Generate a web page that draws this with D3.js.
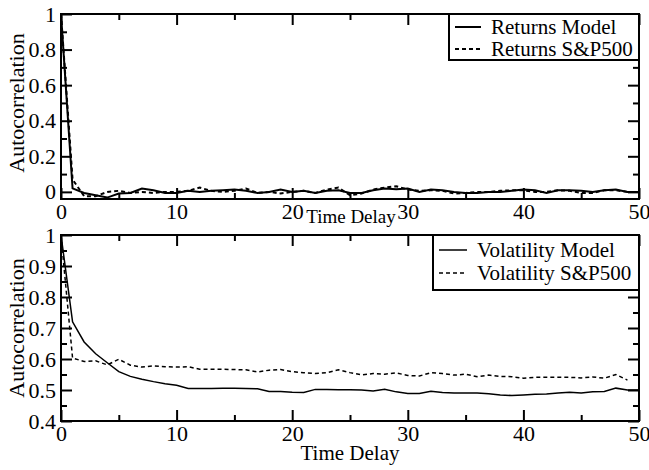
<!DOCTYPE html>
<html>
<head>
<meta charset="utf-8">
<script src="https://cdn.jsdelivr.net/npm/d3@7"></script>
<style>
  body { margin: 0; background: #fff; }
  svg { display: block; }
</style>
</head>
<body>
<script>
// lag axis
var lags = d3.range(0, 51);
var xTicks = [0, 10, 20, 30, 40, 50];
var topYTicks = [0, 0.2, 0.4, 0.6, 0.8, 1];
var botYTicks = [0.4, 0.5, 0.6, 0.7, 0.8, 0.9, 1];

// autocorrelation of returns
var returnsModel = [1.0, 0.02, -0.006, -0.019, -0.032, -0.009, -0.006, 0.019, 0.009, -0.006,
    -0.006, 0.006, 0, 0.006, 0.009, 0.013, 0.006, -0.006, 0, 0.013,
    0, 0.006, -0.006, 0.006, 0.009, -0.006, -0.006, 0.009, 0.019, 0.015,
    0.019, 0, 0.013, 0.009, 0, -0.006, -0.006, 0, 0, 0.006,
    0.013, 0.009, -0.006, 0.009, 0.009, 0.006, 0, 0.009, 0.013, 0, 0];
var returnsSP500 = [1.0, 0.07, -0.024, -0.024, 0, 0.006, -0.006, 0, -0.006, 0,
    0, 0.006, 0.024, 0.006, 0, 0.006, 0.019, -0.006, 0, -0.009,
    0, 0.006, -0.006, 0.013, 0.024, -0.019, -0.009, 0.013, 0.024, 0.032,
    0.013, 0.006, 0.009, 0.006, -0.009, -0.006, 0, 0, 0.006, 0.009,
    0.009, 0, 0, 0.009, 0.006, -0.006, -0.006, 0.009, 0.009, 0, 0];

// autocorrelation of volatility
var volatilityModel = [1.0, 0.72, 0.655, 0.617, 0.588, 0.559, 0.544, 0.535, 0.527, 0.52,
    0.515, 0.505, 0.505, 0.505, 0.506, 0.506, 0.505, 0.504, 0.495, 0.495,
    0.493, 0.492, 0.502, 0.502, 0.501, 0.501, 0.5, 0.497, 0.502, 0.494,
    0.489, 0.489, 0.496, 0.492, 0.49, 0.49, 0.49, 0.488, 0.484, 0.482,
    0.484, 0.486, 0.487, 0.49, 0.493, 0.49, 0.494, 0.495, 0.506, 0.5, 0.5];
var volatilitySP500 = [1.0, 0.603, 0.592, 0.594, 0.581, 0.599, 0.58, 0.574, 0.578, 0.575,
    0.574, 0.575, 0.567, 0.567, 0.567, 0.566, 0.565, 0.558, 0.564, 0.566,
    0.559, 0.556, 0.553, 0.556, 0.565, 0.556, 0.549, 0.553, 0.551, 0.555,
    0.547, 0.545, 0.556, 0.553, 0.548, 0.551, 0.543, 0.548, 0.544, 0.543,
    0.538, 0.541, 0.541, 0.541, 0.541, 0.539, 0.542, 0.538, 0.55, 0.532];

var width = 649, height = 470;
var font = "'Liberation Serif', 'Times New Roman', serif";

var svg = d3.select("body").append("svg")
    .attr("width", width)
    .attr("height", height);

var x = d3.scaleLinear().domain([0, 50]).range([61, 639]);

function drawPanel(opt) {
    var y = d3.scaleLinear().domain(opt.domain).range([opt.bottom, opt.top]);
    var g = svg.append("g");

    // minor + major ticks, inward on all four sides
    var minorX = d3.range(5, 50, 10);
    var sides = [
        [d3.axisBottom, "translate(0," + opt.bottom + ")", x, xTicks, minorX, true, 4],
        [d3.axisTop, "translate(0," + opt.top + ")", x, xTicks, minorX, false, 4],
        [d3.axisLeft, "translate(61,0)", y, opt.yTicks, opt.yMinor, true, 5],
        [d3.axisRight, "translate(639,0)", y, opt.yTicks, opt.yMinor, false, 4]
    ];
    sides.forEach(function (s) {
        var major = g.append("g")
            .attr("transform", s[1])
            .call(s[0](s[2]).tickValues(s[3]).tickSize(-11).tickPadding(s[6])
                .tickFormat(s[5] ? d3.format("") : ""));
        major.select(".domain").remove();
        major.selectAll("line").attr("stroke", "#000").attr("stroke-width", 2);
        major.selectAll("text").attr("font-family", font).attr("font-size", 22).attr("fill", "#000");
        var minor = g.append("g")
            .attr("transform", s[1])
            .call(s[0](s[2]).tickValues(s[4]).tickSize(-6).tickFormat(""));
        minor.select(".domain").remove();
        minor.selectAll("line").attr("stroke", "#000").attr("stroke-width", 2);
    });

    var line = d3.line()
        .x(function (d) { return x(d[0]); })
        .y(function (d) { return y(d[1]); });

    opt.series.forEach(function (s) {
        g.append("path")
            .datum(s.values.map(function (v, i) { return [lags[i], v]; }))
            .attr("d", line)
            .attr("fill", "none")
            .attr("stroke", "#000")
            .attr("stroke-width", opt.lw)
            .attr("stroke-dasharray", s.dash ? "4,3" : null);
    });

    // frame
    g.append("rect")
        .attr("x", 61).attr("y", opt.top)
        .attr("width", 639 - 61).attr("height", opt.bottom - opt.top)
        .attr("fill", "none").attr("stroke", "#000").attr("stroke-width", 2);

    // axis titles
    g.append("text")
        .attr("x", opt.xTitleX).attr("y", opt.xTitleY)
        .attr("text-anchor", "middle")
        .attr("font-family", font).attr("font-size", opt.xTitleSize)
        .text("Time Delay");
    g.append("text")
        .attr("transform", "translate(24," + opt.yTitleMid + ") rotate(-90)")
        .attr("text-anchor", "middle")
        .attr("font-family", font).attr("font-size", 22)
        .text("Autocorrelation");

    // legend
    var lg = g.append("g");
    lg.append("rect")
        .attr("x", opt.legX).attr("y", opt.top)
        .attr("width", 639 - opt.legX).attr("height", opt.legH)
        .attr("fill", "#fff").attr("stroke", "#000").attr("stroke-width", 2);
    opt.series.forEach(function (s, i) {
        var ly = opt.legRow0 + i * opt.legStep;
        lg.append("line")
            .attr("x1", opt.legX + 6).attr("x2", opt.legX + 6 + opt.sampleW)
            .attr("y1", ly).attr("y2", ly)
            .attr("stroke", "#000").attr("stroke-width", opt.lw)
            .attr("stroke-dasharray", s.dash ? "4,3" : null);
        lg.append("text")
            .attr("x", opt.legX + 6 + opt.sampleW + 10).attr("y", ly + 7)
            .attr("font-family", font).attr("font-size", 21)
            .text(s.name);
    });
}

drawPanel({
    top: 14, bottom: 199, domain: [-0.04, 1],
    yTicks: topYTicks, yMinor: [0.1, 0.3, 0.5, 0.7, 0.9],
    lw: 2,
    xTitleX: 351, xTitleY: 223, xTitleSize: 19, yTitleMid: 103,
    legX: 449, legH: 46, legRow0: 27, legStep: 22, sampleW: 26,
    series: [
        { name: "Returns Model", values: returnsModel, dash: false },
        { name: "Returns S&P500", values: returnsSP500, dash: true }
    ]
});

drawPanel({
    top: 235, bottom: 421, domain: [0.4, 1],
    yTicks: botYTicks, yMinor: [0.45, 0.55, 0.65, 0.75, 0.85, 0.95],
    lw: 1.5,
    xTitleX: 350, xTitleY: 460, xTitleSize: 21, yTitleMid: 328,
    legX: 433, legH: 55, legRow0: 250, legStep: 23, sampleW: 28,
    series: [
        { name: "Volatility Model", values: volatilityModel, dash: false },
        { name: "Volatility S&P500", values: volatilitySP500, dash: true }
    ]
});
</script>
</body>
</html>
